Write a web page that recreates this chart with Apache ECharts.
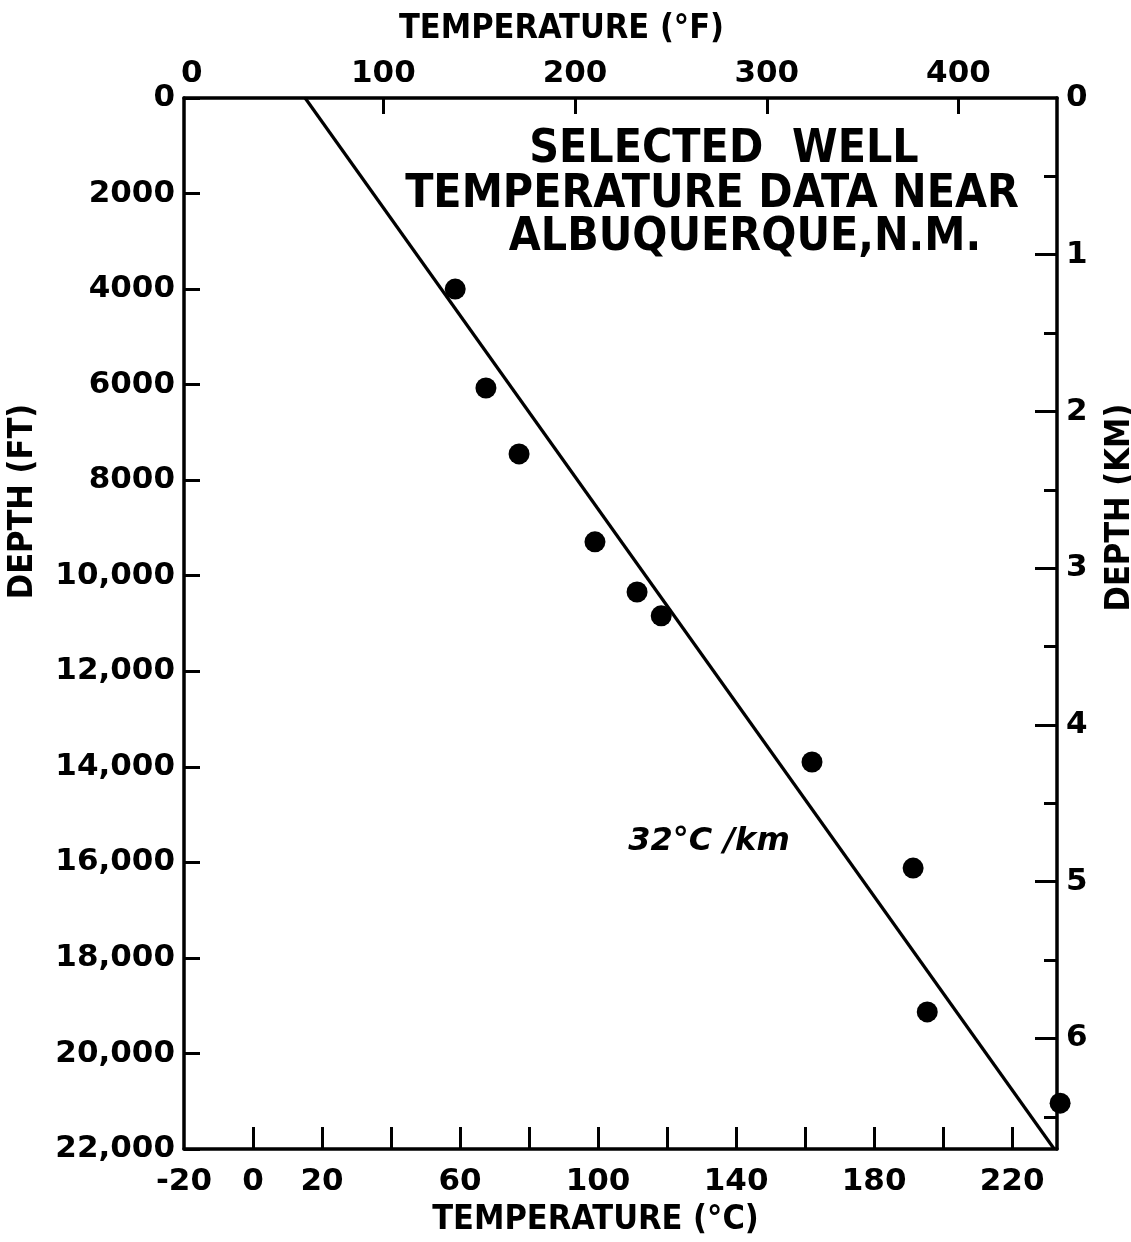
<!DOCTYPE html>
<html>
<head>
<meta charset="utf-8">
<script src="https://cdn.jsdelivr.net/npm/echarts@6/dist/echarts.min.js"></script>
<style>
html,body{margin:0;padding:0;background:#fff;}
#chart{width:1131px;height:1242px;}
</style>
</head>
<body>
<div id="chart"></div>
<script>
// Data (temperature in °C, depth in feet)
const wellTempC = [58.6, 67.5, 77.1, 99.1, 111.3, 118.3, 162.0, 191.3, 195.4, 233.9];
const wellDepthFt = [4000, 6070, 7450, 9290, 10340, 10840, 13900, 16120, 19130, 21040];
// Fitted gradient line, 32 °C/km
const gradTempC = [15.1, 232.2];
const gradDepthFt = [0, 22000];

// Axis ranges & ticks
const tempMinC = -20, tempMaxC = 233;
const depthMaxFt = 22000;
const cTickValues = [0, 20, 40, 60, 80, 100, 120, 140, 160, 180, 200, 220];
const cLabelValues = [-20, 0, 20, 60, 100, 140, 180, 220];
const fTickValues = [100, 200, 300, 400];
const fLabelValues = [0, 100, 200, 300, 400];
const kmMajorTicks = [1, 2, 3, 4, 5, 6];
const kmLabelValues = [0, 1, 2, 3, 4, 5, 6];
const kmMinorTicks = [0.5, 1.5, 2.5, 3.5, 4.5, 5.5, 6.5];

const titleLines = ['SELECTED  WELL', 'TEMPERATURE DATA NEAR', 'ALBUQUERQUE,N.M.'];
const gradientLabel = '32°C /km';

const toF = c => c * 9 / 5 + 32;
const ftToKm = ft => ft * 0.3048 / 1000;

const FONT = 'DejaVu Sans';
const FONTC = 'DejaVu Sans Condensed';
const labelStyle = {color: '#000', fontFamily: FONT, fontWeight: 'bold', fontSize: 31};
const nameBase = {color: '#000', fontFamily: FONTC, fontWeight: 'bold', fontSize: 34};
const lineStyleAxis = {color: '#000', width: 3.5};

function fmtFt(v) {
  if (v >= 10000) {
    const s = String(v);
    return s.slice(0, s.length - 3) + ',' + s.slice(s.length - 3);
  }
  return String(v);
}

const chart = echarts.init(document.getElementById('chart'), null, {renderer: 'canvas'});

const option = {
  backgroundColor: '#fff',
  animation: false,
  grid: {left: 184, right: 74, top: 98, bottom: 93, containLabel: false, outerBoundsMode: 'none'},
  xAxis: [
    {
      type: 'value', position: 'bottom', min: tempMinC, max: tempMaxC,
      name: 'TEMPERATURE (°C)', nameLocation: 'middle', nameGap: 54,
      nameTextStyle: {...nameBase, padding: [0, 50, 0, 0]},
      axisLine: {show: true, onZero: false, lineStyle: lineStyleAxis},
      axisTick: {show: true, inside: true, length: 22, customValues: cTickValues, lineStyle: {color: '#000', width: 3}},
      axisLabel: {show: true, customValues: cLabelValues, margin: 17, ...labelStyle},
      splitLine: {show: false}
    },
    {
      type: 'value', position: 'top', min: toF(tempMinC), max: toF(tempMaxC),
      name: 'TEMPERATURE (°F)', nameLocation: 'middle', nameGap: 52,
      nameTextStyle: {...nameBase, padding: [0, 118, 0, 0]},
      axisLine: {show: true, onZero: false, lineStyle: lineStyleAxis},
      axisTick: {show: true, inside: true, length: 16, customValues: fTickValues, lineStyle: {color: '#000', width: 3}},
      axisLabel: {show: true, customValues: fLabelValues, margin: 9, ...labelStyle},
      splitLine: {show: false}
    }
  ],
  yAxis: [
    {
      type: 'value', position: 'left', inverse: true, min: 0, max: depthMaxFt, interval: 2000,
      name: 'DEPTH (FT)', nameLocation: 'middle', nameGap: 144, nameRotate: 90,
      nameTextStyle: {...nameBase, padding: [0, 0, 0, 244]},
      axisLine: {show: true, onZero: false, lineStyle: lineStyleAxis},
      axisTick: {show: true, inside: true, length: 16, lineStyle: {color: '#000', width: 3}},
      axisLabel: {show: true, margin: 9, formatter: fmtFt, ...labelStyle},
      splitLine: {show: false}
    },
    {
      type: 'value', position: 'right', inverse: true, min: 0, max: ftToKm(depthMaxFt),
      name: 'DEPTH (KM)', nameLocation: 'middle', nameGap: 46, nameRotate: 90,
      nameTextStyle: {...nameBase, padding: [0, 0, 0, 232]},
      axisLine: {show: true, onZero: false, lineStyle: lineStyleAxis},
      axisTick: {show: true, inside: true, length: 22, customValues: kmMajorTicks, lineStyle: {color: '#000', width: 3}},
      axisLabel: {show: true, customValues: kmLabelValues, margin: 9, ...labelStyle},
      splitLine: {show: false}
    },
    {
      type: 'value', position: 'right', offset: 0, inverse: true, min: 0, max: ftToKm(depthMaxFt),
      axisLine: {show: false, onZero: false},
      axisTick: {show: true, inside: true, length: 13, customValues: kmMinorTicks, lineStyle: {color: '#000', width: 3}},
      axisLabel: {show: false},
      splitLine: {show: false}
    }
  ],
  series: [
    {
      type: 'line', xAxisIndex: 0, yAxisIndex: 0,
      data: gradTempC.map((t, i) => [t, gradDepthFt[i]]),
      symbol: 'none', clip: false,
      lineStyle: {color: '#000', width: 3.2}
    },
    {
      type: 'scatter', xAxisIndex: 0, yAxisIndex: 0,
      data: wellTempC.map((t, i) => [t, wellDepthFt[i]]),
      symbol: 'circle', symbolSize: 21, clip: false,
      itemStyle: {color: '#000', opacity: 1}
    }
  ],
  graphic: [
    {type: 'text', x: 724, y: 150, style: {text: titleLines[0], fill: '#000', font: 'bold 46px "DejaVu Sans Condensed"', textAlign: 'center', textVerticalAlign: 'middle'}},
    {type: 'text', x: 712, y: 195, style: {text: titleLines[1], fill: '#000', font: 'bold 46px "DejaVu Sans Condensed"', textAlign: 'center', textVerticalAlign: 'middle'}},
    {type: 'text', x: 745, y: 238, style: {text: titleLines[2], fill: '#000', font: 'bold 46px "DejaVu Sans Condensed"', textAlign: 'center', textVerticalAlign: 'middle'}},
    {type: 'text', x: 709, y: 842, style: {text: gradientLabel, fill: '#000', font: 'italic bold 32px "DejaVu Sans"', textAlign: 'center', textVerticalAlign: 'middle'}}
  ]
};
chart.setOption(option);
</script>
</body>
</html>
